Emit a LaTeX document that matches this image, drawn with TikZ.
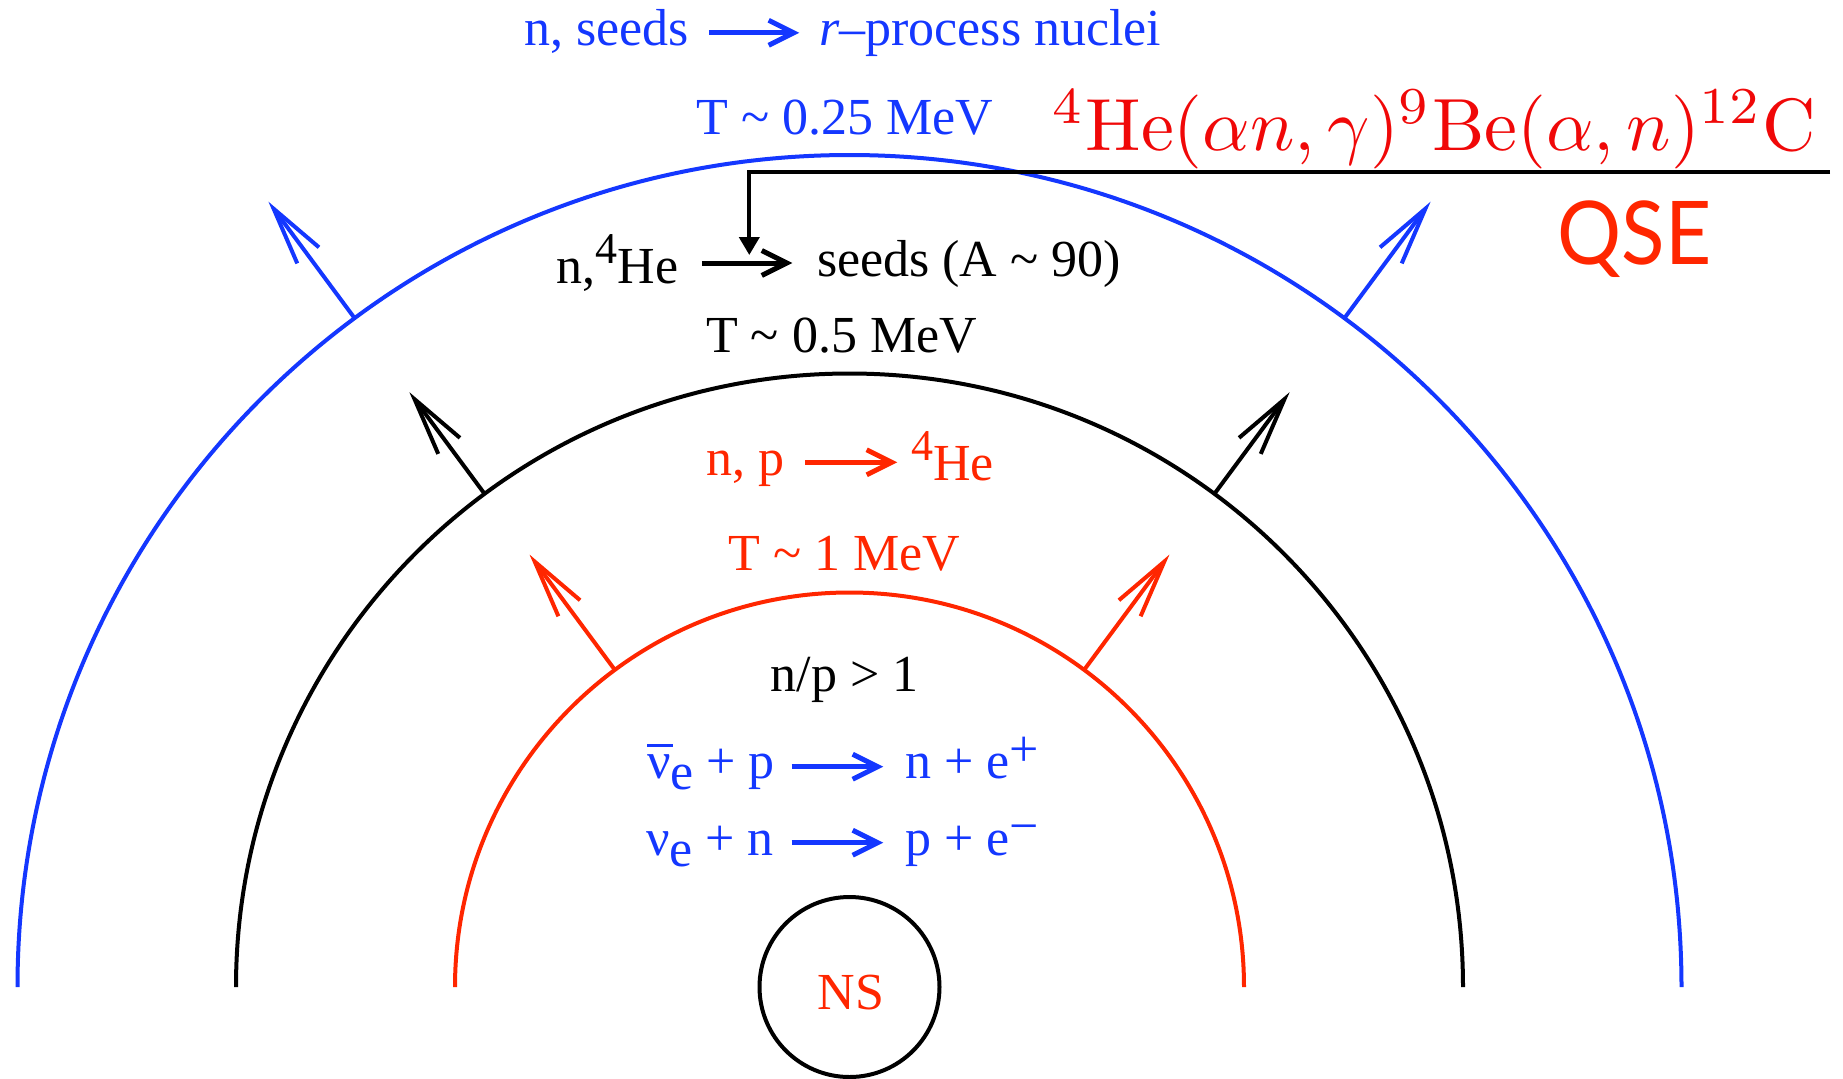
\documentclass[tikz,border=0pt]{standalone}
\usepackage[no-math]{fontspec}
\setmainfont{Liberation Serif}
\newfontfamily\qsefont{Lato}
\usepackage{graphicx}
\usetikzlibrary{arrows.meta,calc}
\definecolor{cblue}{RGB}{20,55,255}
\definecolor{cred}{RGB}{255,38,0}
\definecolor{fred}{RGB}{240,8,8}
\newcommand\tsz{\fontsize{26}{31}\selectfont}
\newcommand\supfour{\raisebox{10pt}{\fontsize{22}{26}\selectfont 4}}
\newcommand\nubar{\makebox[0pt][l]{\raisebox{0.6em}{\rule{0.5em}{0.065em}}}ν}
\newcommand\esub{\raisebox{-0.22em}{e}}
\begin{document}
\begin{tikzpicture}[x=0.5pt,y=-0.5pt,
  t/.style={inner sep=0pt, outer sep=0pt, font=\tsz},
  tarr/.style={line width=2.5pt, -{Straight Barb[length=12.5pt 0, width=12.5pt 0]}},
  rarr/.style={line width=2pt, -{Straight Barb[length=29pt 0, width=13.5pt 0]}},
  shell/.style={line width=2pt}]
\useasboundingbox (0,0) rectangle (1843,1078);
\coordinate (c) at (849.5,987);

% shells
\draw[shell,cblue] ($(c)+(-832,0)$) arc[start angle=180,end angle=0,radius=416pt];
\draw[shell,black] ($(c)+(-613.5,0)$) arc[start angle=180,end angle=0,radius=306.75pt];
\draw[shell,cred] ($(c)+(-394.5,0)$) arc[start angle=180,end angle=0,radius=197.25pt];

% radial arrows
\foreach \a in {126.5,53.5}{
  \draw[rarr,cblue] ($(c)+(\a:416pt)$) -- ($(c)+(\a:488.5pt)$);
  \draw[rarr,black] ($(c)+(\a:306.75pt)$) -- ($(c)+(\a:370pt)$);
  \draw[rarr,cred] ($(c)+(\a:197.25pt)$) -- ($(c)+(\a:269pt)$);
}

% neutron star
\node[circle, draw, line width=2pt, minimum size=90pt, inner sep=0pt] (ns) at (c) {};
\node[t, text=cred, anchor=base] (nslbl) at ($(ns.center)+(1.5,22)$) {NS};

% line 1
\node[t,cblue,anchor=base east] (l1a) at (688.8,45.8) {n, seeds};
\node[t,cblue,anchor=base west] (l1b) at (819,45.8) {\textit{r}–process nuclei};
\coordinate (l1s) at ($(l1a.base east)+(20,-13)$);
\coordinate (l1e) at ($(l1b.base west)+(-19.7,-13)$);
\draw[tarr,cblue] (l1s) -- (l1e);

\node[t,cblue,anchor=base] (t025) at (845,134) {T \textasciitilde{} 0.25 MeV};

% formula and QSE
\node[inner sep=0pt, text=fred, anchor=base west] (rx) at (1052,150.5)
  {\scalebox{3.7}{$^4\mathrm{He}(\alpha n,\gamma)^9\mathrm{Be}(\alpha,n)^{12}\mathrm{C}$}};
\node[inner sep=0pt, text=cred, anchor=base west, font=\qsefont\fontsize{44}{52}\selectfont] (qse) at (1557,264.5) {\scalebox{0.91}[1]{QSE}};

% black reaction
\node[t,anchor=base east] (b1a) at (678.6,283.8) {n,\supfour He};
\node[t,anchor=base west] (b1b) at (817,276.4) {seeds (A \textasciitilde{} 90)};
\coordinate (b1s) at ($(b1a.base east)+(23.2,-20.8)$);
\coordinate (b1e) at ($(b1b.base west)+(-24.6,-13.4)$);
\draw[tarr,black] (b1s) -- (b1e);
\coordinate (bmid) at (749.3,263);
\coordinate (qfree) at (1830,171.7);
\draw[line width=2pt, -{Triangle[length=9pt,width=10pt]}, shorten >=4pt] (qfree) -| (bmid);

\node[t,anchor=base] (t05) at (841.5,352.6) {T \textasciitilde{} 0.5 MeV};

% red reaction
\node[t,cred,anchor=base east] (r1a) at (784,475) {n, p};
\node[t,cred,anchor=base west] (r1b) at (911,480) {\supfour He};
\coordinate (r1s) at ($(r1a.base east)+(21,-12.7)$);
\coordinate (r1e) at ($(r1b.base west)+(-13.7,-17.7)$);
\draw[tarr,cred] (r1s) -- (r1e);

\node[t,cred,anchor=base] (t1) at (844.5,570) {T \textasciitilde{} 1 MeV};

\node[t,anchor=base] (np) at (844.5,691) {n/p > 1};

% neutrino reactions
\node[t,cblue,anchor=base east] (e1a) at (775,778.3) {\nubar\esub{} + p};
\node[t,cblue,anchor=base west] (e1b) at (905,778.3) {n + e\raisebox{0.23em}{+}};
\coordinate (e1s) at ($(e1a.base east)+(16.7,-11.6)$);
\coordinate (e1e) at ($(e1b.base west)+(-21.7,-11.6)$);
\draw[tarr,cblue] (e1s) -- (e1e);

\node[t,cblue,anchor=base east] (e2a) at (774,855) {ν\esub{} + n};
\node[t,cblue,anchor=base west] (e2b) at (905,855) {p + e\raisebox{0.23em}{−}};
\coordinate (e2s) at ($(e2a.base east)+(17.7,-12.3)$);
\coordinate (e2e) at ($(e2b.base west)+(-21.7,-12.3)$);
\draw[tarr,cblue] (e2s) -- (e2e);
\end{tikzpicture}
\end{document}
